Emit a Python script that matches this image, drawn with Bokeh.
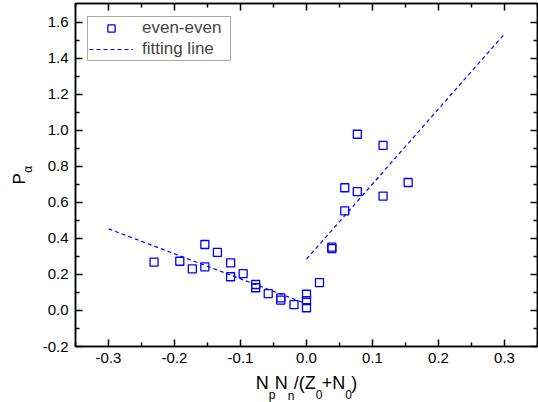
from bokeh.plotting import figure
from bokeh.models import (LinearAxis, FixedTicker, PrintfTickFormatter, Legend,
                          LegendItem, Title, Range1d)
from bokeh.embed import file_html
from bokeh.resources import INLINE

# ---- data ----
x_pts = [-0.231, -0.192, -0.173, -0.154, -0.154, -0.135, -0.115, -0.115, -0.096,
         -0.077, -0.077, -0.058, -0.039, -0.039, -0.019, 0.0, 0.0, 0.0,
         0.0197, 0.0384, 0.0384, 0.058, 0.058, 0.077, 0.077, 0.116, 0.116, 0.154]
y_pts = [0.268, 0.273, 0.231, 0.366, 0.242, 0.322, 0.264, 0.187, 0.204,
         0.144, 0.126, 0.093, 0.070, 0.057, 0.032, 0.090, 0.055, 0.015,
         0.155, 0.351, 0.343, 0.553, 0.681, 0.659, 0.978, 0.916, 0.634, 0.710]

fit_left_x = [-0.3, 0.0]
fit_left_y = [0.453, 0.037]
fit_right_x = [0.0, 0.3]
fit_right_y = [0.285, 1.535]

x_ticks = [-0.3, -0.2, -0.1, 0.0, 0.1, 0.2, 0.3]
x_minor = [-0.35, -0.25, -0.15, -0.05, 0.05, 0.15, 0.25, 0.35]
y_ticks = [-0.2, 0.0, 0.2, 0.4, 0.6, 0.8, 1.0, 1.2, 1.4, 1.6]
y_minor = [-0.1, 0.1, 0.3, 0.5, 0.7, 0.9, 1.1, 1.3, 1.5]

FONT = "Liberation Sans"
W, H = 538, 402
FL, FR, FT, FB = 75, 1, 3, 56          # frame borders
FW = W - FL - FR

p = figure(width=W, height=H, x_range=Range1d(-0.35, 0.35),
           y_range=Range1d(-0.2, 1.7035), output_backend="svg",
           toolbar_location=None, min_border_left=FL, min_border_right=FR,
           min_border_top=FT, min_border_bottom=FB, x_axis_type=None,
           y_axis_type=None)
p.xgrid.visible = False
p.ygrid.visible = False
p.outline_line_color = "black"
p.outline_line_width = 1.5
p.background_fill_color = "white"
p.border_fill_color = "white"


def style(ax, ticks, minor, labels):
    ax.ticker = FixedTicker(ticks=ticks, minor_ticks=minor)
    ax.formatter = PrintfTickFormatter(format="%.1f")
    ax.major_tick_in = 7
    ax.major_tick_out = 0
    ax.minor_tick_in = 4
    ax.minor_tick_out = 0
    ax.axis_line_width = 1.5
    ax.major_tick_line_width = 1.5
    ax.minor_tick_line_width = 1.5
    ax.axis_line_color = "black"
    ax.major_tick_line_color = "black"
    ax.minor_tick_line_color = "black"
    if labels:
        ax.major_label_text_font = FONT
        ax.major_label_text_font_size = "15px"
        ax.major_label_text_color = "black"
    else:
        ax.major_label_text_font_size = "0px"
        ax.major_label_text_color = None
        ax.major_label_standoff = 0


# x axis label: main text in the axis label, subscripts as titles below it
adv = {"N": 0.722, "p": 0.556, "n": 0.556, "/": 0.278, "(": 0.333, "Z": 0.611,
       "0": 0.556, "+": 0.584, ")": 0.333}
S, T = 18, 12
GAP = "\u2004"                       # 1/3 em space leaves room for a subscript
main_parts = ["N", "N", "/(Z", "+N", ")"]
sub_parts = ["p", "n", "0", "0"]
xlabel = GAP.join(main_parts)

xb = LinearAxis()
style(xb, x_ticks, x_minor, True)
xb.major_label_standoff = 6
xb.axis_label = xlabel
xb.axis_label_text_font = FONT
xb.axis_label_text_font_size = f"{S}px"
xb.axis_label_text_font_style = "normal"
xb.axis_label_text_color = "black"
xb.axis_label_standoff = 7
p.add_layout(xb, "below")

main_w = [sum(adv[c] for c in t) * S for t in main_parts]
gap_w = S / 3.0
total = sum(main_w) + gap_w * len(sub_parts)
xpos = FW / 2 - total / 2
for i, sub in enumerate(sub_parts):
    xpos += main_w[i]
    p.add_layout(Title(text=sub, align="left", vertical_align="top",
                       offset=xpos, standoff=-15, text_font=FONT,
                       text_font_size=f"{T}px", text_font_style="normal",
                       text_color="black"), "below")
    xpos += gap_w

yl = LinearAxis()
style(yl, y_ticks, y_minor, True)
yl.major_label_standoff = 7
p.add_layout(yl, "left")
# y axis label: P with subscript alpha
p.add_layout(Title(text="α", align="left", vertical_align="top", offset=173.8,
                   standoff=5, text_font=FONT, text_font_size="12px",
                   text_font_style="normal", text_color="black"), "left")
p.add_layout(Title(text="P", align="left", vertical_align="bottom", offset=162,
                   standoff=-21, text_font=FONT, text_font_size="17px",
                   text_font_style="normal", text_color="black"), "left")

xt = LinearAxis()
style(xt, x_ticks, x_minor, False)
p.add_layout(xt, "above")
yr = LinearAxis()
style(yr, y_ticks, y_minor, False)
p.add_layout(yr, "right")

l1 = p.line(fit_left_x, fit_left_y, line_color="blue", line_width=1.2,
            line_dash="4 3")
l2 = p.line(fit_right_x, fit_right_y, line_color="blue", line_width=1.2,
            line_dash="4 3")
sc = p.scatter(x_pts, y_pts, marker="square", size=8, fill_color=None,
               line_color="blue", line_width=1.3)

legend = Legend(items=[LegendItem(label="even-even", renderers=[sc]),
                       LegendItem(label="fitting line", renderers=[l1])],
                location=(12, 285), label_text_font=FONT,
                label_text_font_size="17px", glyph_width=44, glyph_height=18,
                label_height=18, label_width=87, label_standoff=9, padding=1,
                spacing=1, border_line_color="#555555", border_line_width=1.5,
                margin=0)
p.add_layout(legend)

open("out.html", "w").write(file_html(p, INLINE))
